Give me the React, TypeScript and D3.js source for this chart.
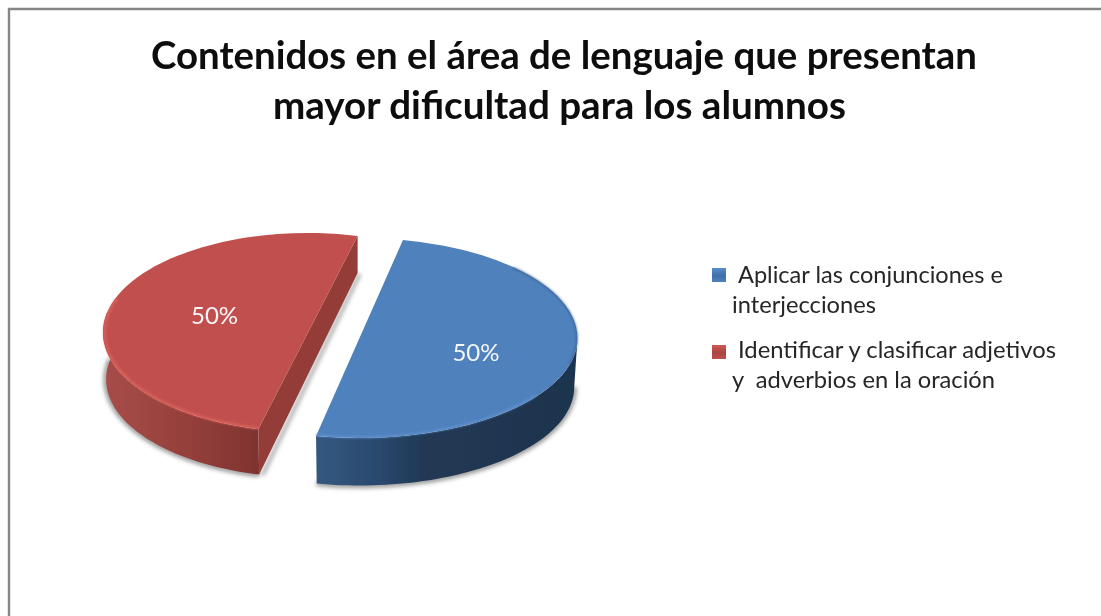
import React from "react";
import * as d3 from "d3";

const titleLines = ["Contenidos en el área de lenguaje que presentan", "mayor dificultad para los alumnos"];
const categories = ["Aplicar las conjunciones e interjecciones", "Identificar y clasificar adjetivos y adverbios en la oración"];
const legendLines = [
  ["Aplicar las conjunciones e", "interjecciones"],
  ["Identificar y clasificar adjetivos", "y  adverbios en la oración"],
];
const values = [50, 50];
const colors = ["#4f81bd", "#c0504d"];
const highlight = ["#6a9ad6", "#e0645f"];

const W = 1101, H = 616;
const R = 1000;
const geo = [
  { cx: 359.5, cy: 338, rx: 218, ry: 100, depth: 49, rot: 11.5, wall: [90, 191.5], bevel: [125, 191.5], dy: 4, labelR: 0.545, grad: "wallBlue" },
  { cx: 308, cy: 332.5, rx: 205, ry: 99.5, depth: 47, rot: 14, wall: [194, 282], bevel: [194, 290], dy: -6, labelR: 0.47, grad: "wallRed" },
];
const rad = (d: number) => (d * Math.PI) / 180;
const pt = (g: any, a: number, dz = 0, k = 1): [number, number] => [
  g.cx + g.rx * k * Math.sin(a),
  g.cy + dz - g.ry * k * Math.cos(a),
];
const line = d3.line();
const sample = (a0: number, a1: number) => d3.range(0, 61).map((i) => rad(a0 + ((a1 - a0) * i) / 60));

export default function App() {
  const arcs = d3.pie<number>().sort(null).startAngle(0).endAngle(2 * Math.PI)(values);
  const unit = d3.arc<any>().innerRadius(0).outerRadius(R);
  const parts = arcs.map((d, i) => {
    const g = geo[i];
    const r = rad(g.rot);
    const top = unit({ ...d, startAngle: d.startAngle + r, endAngle: d.endAngle + r }) as string;
    const As = sample(g.wall[0], g.wall[1]);
    const wall = line([...As.map((a) => pt(g, a)), ...As.slice().reverse().map((a) => pt(g, a, g.depth, 0.985))]) as string;
    const bevel = line(sample(g.bevel[0], g.bevel[1]).map((a) => pt(g, a, 0, 0.992))) as string;
    const sil = line([...As.map((a) => pt(g, a, g.depth, 0.985))]) as string;
    const mid = (d.startAngle + d.endAngle) / 2 + r;
    const lab = pt(g, mid, g.dy, g.labelR);
    const a = pt(g, d.startAngle + r), b = pt(g, d.endAngle + r);
    return { g, top, wall, bevel, sil, lab, a, b, value: d.value, i };
  });
  const red = parts[1];
  const blue = parts[0];
  const redBottom = pt(red.g, rad(red.g.wall[0]), red.g.depth, 0.985);
  const cut = line([red.b, red.a, redBottom, [red.b[0], red.b[1] + 37]] as any) as string;
  const rim = line(sample(45, 105).map((a) => pt(blue.g, a, 0, 0.998))) as string;
  const pct = (v: number) => `${Math.round((v / d3.sum(values)) * 100)}%`;

  const titleRow = [
    { x: 151, y: 69, w: 826 },
    { x: 273, y: 119, w: 573 },
  ];
  const legendRow = [
    [{ x: 738, y: 283, w: 265 }, { x: 732, y: 313, w: 144 }],
    [{ x: 738, y: 358, w: 318 }, { x: 732, y: 388, w: 263 }],
  ];
  const markerY = [268, 345];

  return (
    <svg width={W} height={H} style={{ position: "absolute", left: 0, top: 0, background: "#fff" }}>
      <defs>
        <filter id="soft" x="-5%" y="-5%" width="110%" height="110%"><feGaussianBlur stdDeviation="0.45" /></filter>
        <filter id="shadow" x="-20%" y="-20%" width="140%" height="140%"><feGaussianBlur stdDeviation="2.2" /></filter>
        <filter id="bev" x="-5%" y="-5%" width="110%" height="110%"><feGaussianBlur stdDeviation="0.9" /></filter>
        <linearGradient id="wallBlue" gradientUnits="userSpaceOnUse" x1="316" x2="578" y1="0" y2="0">
          <stop offset="0" stopColor="#34587f" />
          <stop offset="0.22" stopColor="#2b4a70" />
          <stop offset="0.42" stopColor="#203853" />
          <stop offset="1" stopColor="#1f344f" />
        </linearGradient>
        <linearGradient id="wallRed" gradientUnits="userSpaceOnUse" x1="104" x2="260" y1="0" y2="0">
          <stop offset="0" stopColor="#a74d49" />
          <stop offset="0.55" stopColor="#943f3b" />
          <stop offset="1" stopColor="#7f3330" />
        </linearGradient>
        <linearGradient id="mkBlue" x1="0" x2="0" y1="0" y2="1">
          <stop offset="0" stopColor="#5b8dca" /><stop offset="0.55" stopColor="#3f70aa" /><stop offset="1" stopColor="#4f81bd" />
        </linearGradient>
        <linearGradient id="mkRed" x1="0" x2="0" y1="0" y2="1">
          <stop offset="0" stopColor="#d05a56" /><stop offset="0.55" stopColor="#a84442" /><stop offset="1" stopColor="#c0504d" />
        </linearGradient>
      </defs>

      <path d={`M${W},9 H9 V${H}`} fill="none" stroke="#868686" strokeWidth={2.4} />

      <g filter="url(#soft)">
        {titleLines.map((t, i) => (
          <text key={t} x={titleRow[i].x} y={titleRow[i].y} textLength={titleRow[i].w} lengthAdjust="spacingAndGlyphs"
            fontFamily="Lato" fontWeight={700} fontSize={39} fill="#0a0a0a">{t}</text>
        ))}
      </g>

      {parts.map((p) => (
        <path key={`s${p.i}`} d={p.sil} fill="none" stroke="#6e6e6e" strokeWidth={5} opacity={0.75} filter="url(#shadow)" />
      ))}
      <path d={line([[red.b[0] + 2, red.b[1] + 38], [red.a[0] + 4, red.a[1] + 46]]) as string} fill="none" stroke="#777" strokeWidth={4} opacity={0.6} filter="url(#shadow)" />

      <g filter="url(#soft)">
        {parts.map((p) => (
          <g key={categories[p.i]}>
            <path d={p.wall} fill={`url(#${p.g.grad})`} />
            {p.i === 1 && <path d={cut} fill="#943c39" />}
            <path d={p.top} transform={`translate(${p.g.cx},${p.g.cy}) scale(${p.g.rx / R},${p.g.ry / R})`} fill={colors[p.i]} />
            {p.i === 0 && <path d={rim} fill="none" stroke="#2c4a70" strokeWidth={1.6} opacity={0.6} filter="url(#bev)" />}
            <path d={p.bevel} fill="none" stroke={highlight[p.i]} strokeWidth={2.2} opacity={p.i === 1 ? 0.9 : 0.6} filter="url(#bev)" />
            <text x={p.lab[0]} y={p.lab[1]} dy="0.35em" textAnchor="middle" fontFamily="Lato" fontSize={24} fill="#f4f6fa">{pct(p.value)}</text>
          </g>
        ))}
      </g>

      <g filter="url(#soft)">
        {legendLines.map((ls, i) => (
          <g key={ls[0]}>
            <rect x={712} y={markerY[i]} width={14} height={14} fill={i === 0 ? "url(#mkBlue)" : "url(#mkRed)"} />
            {ls.map((t, j) => (
              <text key={t} x={legendRow[i][j].x} y={legendRow[i][j].y} textLength={legendRow[i][j].w} lengthAdjust="spacingAndGlyphs"
                xmlSpace="preserve" fontFamily="Lato" fontSize={24} fill="#262626">{t}</text>
            ))}
          </g>
        ))}
      </g>
    </svg>
  );
}
